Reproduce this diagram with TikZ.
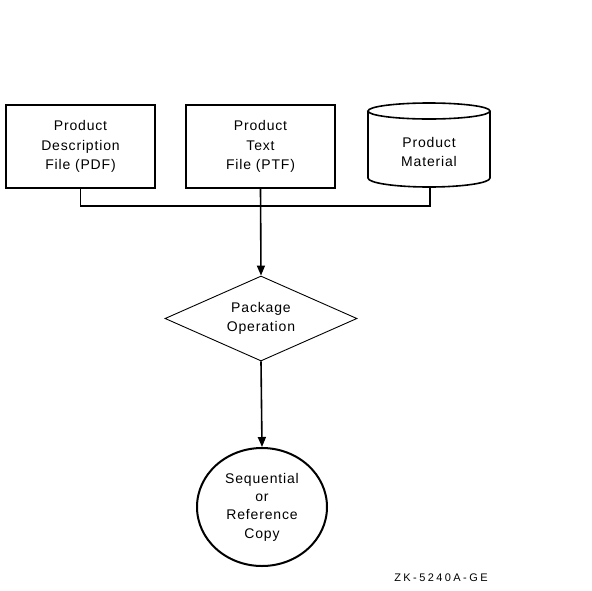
\documentclass[tikz,border=0pt]{standalone}
\usepackage{fontspec}
\setmainfont{Liberation Sans}[LetterSpace=6]
\newfontfamily\labelfont{Liberation Sans}[LetterSpace=22]
\usetikzlibrary{shapes.geometric,arrows.meta}
\begin{document}
\begin{tikzpicture}[x=1pt,y=-1pt,
  txt/.style={align=center,font=\fontsize{14}{19.5}\selectfont,inner sep=0pt},
  filebox/.style={draw,line width=1.8pt,minimum width=149pt,minimum height=83pt,inner sep=0pt,txt},
  conn/.style={line width=1.6pt},
  arr/.style={conn,-{Triangle[length=10pt,width=8pt]}}]
\useasboundingbox (0,0) rectangle (592,590);
% boxes
\node[filebox] (pdf) at (80.5,146.5) {Product\\Description\\File (PDF)};
\node[filebox] (ptf) at (260.5,146.5) {Product\\Text\\File (PTF)};
% cylinder
\draw[line width=1.6pt] (368,111) -- (368,178) arc[start angle=180,end angle=0,x radius=61,y radius=9] -- (490,111);
\draw[line width=1.6pt] (429,111) ellipse[x radius=61,y radius=8];
\node[txt,font=\fontsize{14}{18.5}\selectfont] (mat) at (429,152) {Product\\Material};
\coordinate (matb) at (430,187);
% diamond
\node[draw,diamond,line width=0.9pt,aspect=2.26,minimum width=192pt,minimum height=85pt,inner sep=0pt,txt] (pkg) at (261,318.5) {Package\\Operation};
% circle
\node[draw,ellipse,line width=2pt,minimum width=130pt,minimum height=118pt,inner sep=0pt,txt,font=\fontsize{14}{18.3}\selectfont] (copy) at (262,507) {Sequential\\or\\Reference\\Copy};
% connectors
\coordinate (j1) at (80.5,206);
\coordinate (j3) at (430,206);
\draw[conn] (pdf.south) -- (j1) -- (j3) -- (matb);
\draw[arr] (ptf.south) -- (pkg.north);
\draw[arr] (pkg.south) -- (copy.north);
% label
\node[inner sep=0pt,font=\labelfont\fontsize{11}{13}\selectfont] (zk) at (441,578) {ZK-5240A-GE};
\end{tikzpicture}
\end{document}
